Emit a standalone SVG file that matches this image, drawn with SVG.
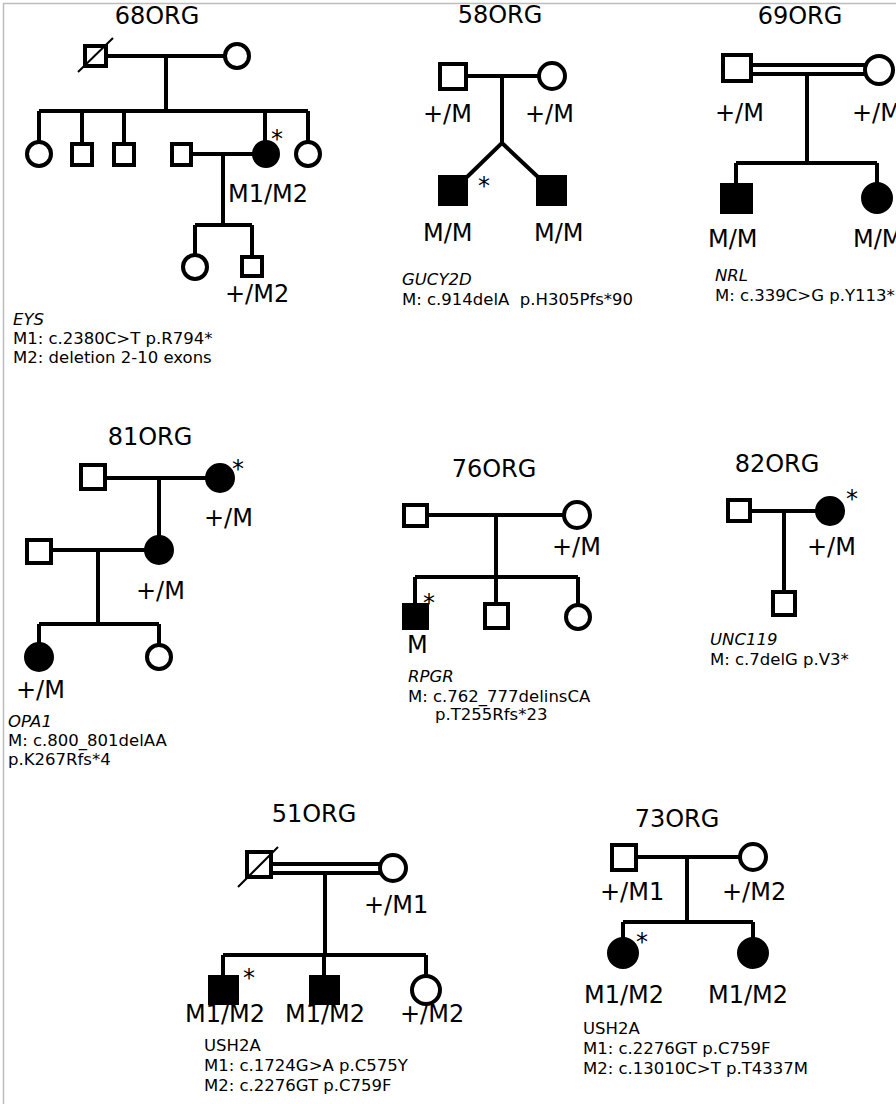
<svg xmlns="http://www.w3.org/2000/svg" width="896" height="1104" viewBox="0 0 896 1104">
<style>
.ln{stroke:#000;stroke-width:4;fill:none}
.o{fill:#fff;stroke:#000;stroke-width:4}
.f{fill:#000;stroke:#000;stroke-width:4}
.d{stroke:#000;stroke-width:2}
text{font-family:"DejaVu Sans","Liberation Sans",sans-serif;fill:#000}
.t{font-size:24px}
.g{font-size:24px}
.s{font-size:24px;text-anchor:middle}
.a{font-size:16.5px}
.i{font-style:italic}
.c{text-anchor:middle}
</style>
<rect width="896" height="1104" fill="#fff"/>
<path d="M3.5,1104 V3.5 H896" fill="none" stroke="#bdbdbd" stroke-width="1.5"/>

<g id="connectors" class="ln">
<!-- 68ORG -->
<path d="M108,56 H225 M166,56 V111 M39,111 H308 M39,111 V142 M82,111 V144 M124,111 V144 M265,111 V142 M308,111 V142"/>
<path d="M193,154 H254 M223,154 V225 M195,225 H252 M195,225 V255 M252,225 V257"/>
<!-- 58ORG -->
<path d="M466,76 H539 M502,76 V143 L467,177 M502,143 L538,177"/>
<!-- 69ORG -->
<path d="M751,65 H866 M751,74 H866 M807,74 V163 M736,163 H877 M736,163 V185 M877,163 V183"/>
<!-- 81ORG -->
<path d="M105,478 H207 M159,478 V537 M51,550 H146 M98,550 V624 M39,624 H159 M39,624 V644 M159,624 V645"/>
<!-- 76ORG -->
<path d="M427,515 H564 M496,515 V577 M415,577 H578 M415,577 V605 M496,577 V604 M578,577 V605"/>
<!-- 82ORG -->
<path d="M750,511 H817 M784,511 V592"/>
<!-- 51ORG -->
<path d="M271,864 H381 M271,873 H381 M325,873 V955 M223,955 H426 M223,955 V977 M324,955 V977 M426,955 V976"/>
<!-- 73ORG -->
<path d="M636,857 H740 M687,857 V922 M623,922 H753 M623,922 V939 M753,922 V939"/>
</g>

<g id="ped68">
<text class="t c" x="157" y="24">68ORG</text>
<g id="n68_father"><rect class="o" x="85" y="46" width="21" height="20"/><line class="d" x1="78" y1="72" x2="113" y2="38"/></g>
<g id="n68_mother"><circle class="o" cx="237" cy="56" r="12"/></g>
<g id="n68_c1"><circle class="o" cx="39" cy="154" r="12"/></g>
<g id="n68_c2"><rect class="o" x="72" y="144" width="20" height="21"/></g>
<g id="n68_c3"><rect class="o" x="114" y="144" width="20" height="21"/></g>
<g id="n68_spouse"><rect class="o" x="172" y="144" width="19" height="21"/></g>
<g id="n68_proband"><circle class="f" cx="266" cy="154" r="12"/><text class="s" x="277" y="147">*</text><text class="g" x="228" y="202">M1/M2</text></g>
<g id="n68_c4"><circle class="o" cx="308" cy="154" r="12"/></g>
<g id="n68_gc1"><circle class="o" cx="195" cy="267" r="12"/></g>
<g id="n68_gc2"><rect class="o" x="242" y="257" width="20" height="19"/><text class="g" x="225" y="302">+/M2</text></g>
<text class="a i" x="13" y="325">EYS</text>
<text class="a" x="13" y="344">M1: c.2380C&gt;T p.R794*</text>
<text class="a" x="13" y="363">M2: deletion 2-10 exons</text>
</g>

<g id="ped58">
<text class="t c" x="500" y="23">58ORG</text>
<g id="n58_father"><rect class="o" x="440" y="64" width="26" height="25"/><text class="g" x="423" y="122">+/M</text></g>
<g id="n58_mother"><circle class="o" cx="552" cy="76" r="13"/><text class="g" x="525" y="122">+/M</text></g>
<g id="n58_c1"><rect class="f" x="440" y="177" width="26" height="27"/><text class="s" x="484" y="194">*</text><text class="g" x="423" y="241">M/M</text></g>
<g id="n58_c2"><rect class="f" x="538" y="177" width="27" height="27"/><text class="g" x="534" y="241">M/M</text></g>
<text class="a i" x="402" y="285">GUCY2D</text>
<text class="a" x="402" y="305">M: c.914delA&#160; p.H305Pfs*90</text>
</g>

<g id="ped69">
<text class="t c" x="800" y="24">69ORG</text>
<g id="n69_father"><rect class="o" x="723" y="55" width="28" height="26"/><text class="g" x="715" y="121">+/M</text></g>
<g id="n69_mother"><circle class="o" cx="879" cy="70" r="14"/><text class="g" x="852" y="121">+/M</text></g>
<g id="n69_c1"><rect class="f" x="722" y="185" width="29" height="27"/><text class="g" x="708" y="247">M/M</text></g>
<g id="n69_c2"><circle class="f" cx="877" cy="198" r="14"/><text class="g" x="853" y="247">M/M</text></g>
<text class="a i" x="715" y="281">NRL</text>
<text class="a" x="715" y="301">M: c.339C&gt;G p.Y113*</text>
</g>

<g id="ped81">
<text class="t c" x="150" y="445">81ORG</text>
<g id="n81_gf"><rect class="o" x="81" y="465" width="24" height="24"/></g>
<g id="n81_gm"><circle class="f" cx="220" cy="478" r="13"/><text class="s" x="238" y="477">*</text><text class="g" x="204" y="526">+/M</text></g>
<g id="n81_father"><rect class="o" x="27" y="540" width="24" height="23"/></g>
<g id="n81_mother"><circle class="f" cx="159" cy="550" r="13"/><text class="g" x="136" y="599">+/M</text></g>
<g id="n81_c1"><circle class="f" cx="39" cy="657" r="13"/><text class="g" x="16" y="698">+/M</text></g>
<g id="n81_c2"><circle class="o" cx="159" cy="657" r="12"/></g>
<text class="a i" x="8" y="727">OPA1</text>
<text class="a" x="8" y="746">M: c.800_801delAA</text>
<text class="a" x="8" y="765">p.K267Rfs*4</text>
</g>

<g id="ped76">
<text class="t c" x="494" y="477">76ORG</text>
<g id="n76_father"><rect class="o" x="404" y="505" width="23" height="21"/></g>
<g id="n76_mother"><circle class="o" cx="577" cy="515" r="13"/><text class="g" x="552" y="555">+/M</text></g>
<g id="n76_c1"><rect class="f" x="404" y="605" width="23" height="23"/><text class="s" x="429" y="611">*</text><text class="g" x="407" y="653">M</text></g>
<g id="n76_c2"><rect class="o" x="485" y="604" width="23" height="24"/></g>
<g id="n76_c3"><circle class="o" cx="578" cy="617" r="12"/></g>
<text class="a i" x="408" y="682">RPGR</text>
<text class="a" x="408" y="702">M: c.762_777delinsCA</text>
<text class="a" x="435" y="720">p.T255Rfs*23</text>
</g>

<g id="ped82">
<text class="t c" x="777" y="472">82ORG</text>
<g id="n82_father"><rect class="o" x="728" y="500" width="22" height="21"/></g>
<g id="n82_mother"><circle class="f" cx="830" cy="511" r="13"/><text class="s" x="852" y="507">*</text><text class="g" x="807" y="555">+/M</text></g>
<g id="n82_c1"><rect class="o" x="773" y="592" width="22" height="23"/></g>
<text class="a i" x="710" y="645">UNC119</text>
<text class="a" x="710" y="665">M: c.7delG p.V3*</text>
</g>

<g id="ped51">
<text class="t c" x="314" y="822">51ORG</text>
<g id="n51_father"><rect class="o" x="247" y="852" width="24" height="25"/><line class="d" x1="238" y1="887" x2="278" y2="847"/></g>
<g id="n51_mother"><circle class="o" cx="393" cy="868" r="13"/><text class="g" x="364" y="913">+/M1</text></g>
<g id="n51_c1"><rect class="f" x="210" y="977" width="27" height="26"/><text class="s" x="249" y="986">*</text><text class="g" x="185" y="1022">M1/M2</text></g>
<g id="n51_c2"><rect class="f" x="311" y="977" width="27" height="26"/><text class="g" x="285" y="1022">M1/M2</text></g>
<g id="n51_c3"><circle class="o" cx="426" cy="990" r="14"/><text class="g" x="400" y="1022">+/M2</text></g>
<text class="a" x="204" y="1051">USH2A</text>
<text class="a" x="204" y="1071">M1: c.1724G&gt;A p.C575Y</text>
<text class="a" x="204" y="1091">M2: c.2276GT p.C759F</text>
</g>

<g id="ped73">
<text class="t c" x="677" y="827">73ORG</text>
<g id="n73_father"><rect class="o" x="612" y="845" width="24" height="25"/><text class="g" x="600" y="900">+/M1</text></g>
<g id="n73_mother"><circle class="o" cx="753" cy="857" r="13"/><text class="g" x="722" y="900">+/M2</text></g>
<g id="n73_c1"><circle class="f" cx="623" cy="953" r="14"/><text class="s" x="642" y="950">*</text><text class="g" x="584" y="1003">M1/M2</text></g>
<g id="n73_c2"><circle class="f" cx="753" cy="953" r="14"/><text class="g" x="708" y="1003">M1/M2</text></g>
<text class="a" x="583" y="1034">USH2A</text>
<text class="a" x="583" y="1054">M1: c.2276GT p.C759F</text>
<text class="a" x="583" y="1074">M2: c.13010C&gt;T p.T4337M</text>
</g>
</svg>
